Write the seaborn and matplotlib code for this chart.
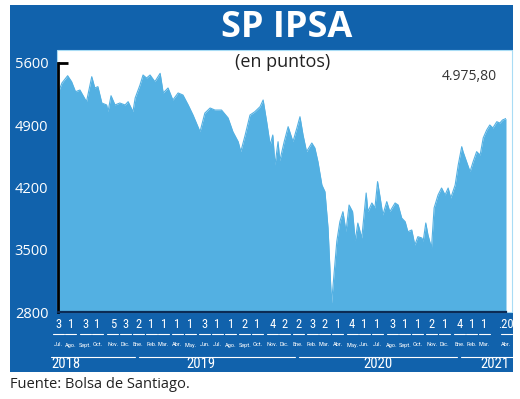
import matplotlib
matplotlib.use("Agg")
import matplotlib.pyplot as plt
import matplotlib.dates as mdates
from matplotlib.patches import Rectangle
from matplotlib.lines import Line2D
from matplotlib import font_manager
import pandas as pd
import seaborn as sns

# ---------------- data ----------------
dates = [
    "2018-07-03", "2018-07-12", "2018-07-25", "2018-08-03", "2018-08-12", "2018-08-22",
    "2018-09-06", "2018-09-18", "2018-09-25", "2018-10-02", "2018-10-11", "2018-10-22",
    "2018-10-25", "2018-11-01", "2018-11-10", "2018-11-21", "2018-12-03", "2018-12-10",
    "2018-12-21", "2018-12-26", "2019-01-06", "2019-01-13", "2019-01-21", "2019-01-29",
    "2019-02-09", "2019-02-21", "2019-02-28", "2019-03-11", "2019-03-22", "2019-04-03",
    "2019-04-14", "2019-04-26", "2019-05-07", "2019-05-23", "2019-06-03", "2019-06-15",
    "2019-06-26", "2019-07-11", "2019-07-26", "2019-08-06", "2019-08-18", "2019-08-24",
    "2019-09-03", "2019-09-14", "2019-09-25", "2019-10-07", "2019-10-14", "2019-10-22",
    "2019-10-30", "2019-11-05", "2019-11-10", "2019-11-17", "2019-11-21", "2019-12-01",
    "2019-12-10", "2019-12-21", "2019-12-30", "2020-01-06", "2020-01-13", "2020-01-21",
    "2020-02-02", "2020-02-09", "2020-02-16", "2020-02-25", "2020-03-03", "2020-03-10",
    "2020-03-18", "2020-03-21", "2020-03-30", "2020-04-06", "2020-04-13", "2020-04-20",
    "2020-04-27", "2020-05-05", "2020-05-11", "2020-05-17", "2020-05-26", "2020-06-05",
    "2020-06-09", "2020-06-18", "2020-06-25", "2020-07-01", "2020-07-07", "2020-07-13",
    "2020-07-22", "2020-07-29", "2020-08-10", "2020-08-17", "2020-08-25", "2020-09-02",
    "2020-09-08", "2020-09-17", "2020-09-24", "2020-10-01", "2020-10-10", "2020-10-13",
    "2020-10-19", "2020-10-24", "2020-11-01", "2020-11-07", "2020-11-16", "2020-11-24",
    "2020-12-02", "2020-12-09", "2020-12-15", "2020-12-25", "2021-01-01", "2021-01-09",
    "2021-01-12", "2021-01-20", "2021-01-28", "2021-02-04", "2021-02-12", "2021-02-20",
    "2021-02-27", "2021-03-07", "2021-03-14", "2021-03-21", "2021-03-30", "2021-04-06",
    "2021-04-12", "2021-04-20",
]
values = [
    5260, 5375, 5457, 5390, 5277, 5296,
    5165, 5446, 5319, 5334, 5150, 5128,
    5052, 5232, 5128, 5150, 5128, 5165,
    5052, 5206, 5352, 5465, 5431, 5465,
    5390, 5484, 5263, 5319, 5184, 5263,
    5240, 5128, 5015, 4827, 5037, 5094,
    5071, 5071, 4982, 4827, 4715, 4603,
    4790, 5015, 5052, 5109, 5184, 4940,
    4678, 4790, 4453, 4715, 4500, 4715,
    4884, 4715, 4869, 4996, 4790, 4603,
    4700, 4644, 4490, 4228, 4153, 3745,
    2901, 3070, 3593, 3815, 3928, 3703,
    4003, 3928, 3600, 3800, 3632, 4138,
    3928, 4026, 3970, 4266, 4082, 3891,
    4041, 3928, 4026, 4003, 3857, 3815,
    3703, 3722, 3553, 3647, 3632, 3593,
    3801, 3666, 3520, 3970, 4116, 4194,
    4116, 4194, 4082, 4228, 4453, 4659,
    4603, 4490, 4378, 4490, 4603, 4565,
    4757, 4847, 4903, 4869, 4940, 4925,
    4959, 4976,
]

tick_dates = [
    "2018-07-03", "2018-08-01", "2018-09-03", "2018-10-01", "2018-11-05", "2018-12-03",
    "2019-01-02", "2019-02-01", "2019-03-01", "2019-04-01", "2019-05-01", "2019-06-03",
    "2019-07-01", "2019-08-01", "2019-09-02", "2019-10-01", "2019-11-04", "2019-12-02",
    "2020-01-02", "2020-02-03", "2020-03-02", "2020-04-01", "2020-05-04", "2020-06-01",
    "2020-07-01", "2020-08-03", "2020-09-01", "2020-10-01", "2020-11-02", "2020-12-01",
    "2021-01-04", "2021-02-01", "2021-03-01", "2021-04-20",
]
tick_day_labels = [
    "3", "1", "3", "1", "5", "3",
    "2", "1", "1", "1", "1", "3", "1", "1", "2", "1", "4", "2",
    "2", "3", "2", "1", "4", "1", "1", "3", "1", "1", "2", "1",
    "4", "1", "1", ".20",
]
tick_month_labels = [
    "Jul.", "Ago.", "Sept.", "Oct.", "Nov.", "Dic.",
    "Ene.", "Feb.", "Mar.", "Abr.", "May.", "Jun.", "Jul.", "Ago.", "Sept.", "Oct.", "Nov.", "Dic.",
    "Ene.", "Feb.", "Mar.", "Abr.", "May.", "Jun.", "Jul.", "Ago.", "Sept.", "Oct.", "Nov.", "Dic.",
    "Ene.", "Feb.", "Mar.", "Abr.",
]
years = ["2018", "2019", "2020", "2021"]
y_ticks = [2800, 3500, 4200, 4900, 5600]
last_value_label = "4.975,80"
title = "SP IPSA"
subtitle = "(en puntos)"
source = "Fuente: Bolsa de Santiago."

# layout-only anchors for year captions
year_label_dates = ["2018-07-20", "2019-05-25", "2020-07-01", "2021-03-26"]

# ---------------- style ----------------
sns.set_style("white")
plt.rcParams["font.family"] = ["Open Sans", "DejaVu Sans"]

installed = {f.name for f in font_manager.fontManager.ttflist}
NARROW = [f for f in ["Roboto Condensed", "Liberation Sans Narrow", "Roboto"] if f in installed] + ["DejaVu Sans"]

DARK = "#1162AC"
FILL = "#53B0E2"

W, H = 520, 399
fig = plt.figure(figsize=(W / 100, H / 100), dpi=100)
fig.patch.set_facecolor("white")


def fx(px):
    return px / W


def fy(py):
    return 1 - py / H


fig.add_artist(Rectangle((fx(10), fy(372)), fx(513) - fx(10), fy(5) - fy(372),
                         transform=fig.transFigure, facecolor=DARK, edgecolor="none", zorder=-3))
fig.add_artist(Rectangle((fx(57), fy(312)), fx(512) - fx(57), fy(50) - fy(312),
                         transform=fig.transFigure, facecolor="white", edgecolor="#a8dcf5",
                         lw=0.8, zorder=-2))

ax = fig.add_axes([fx(58), fy(312), fx(506) - fx(58), fy(63) - fy(312)])
ax.patch.set_alpha(0)

df = pd.DataFrame({"date": pd.to_datetime(dates), "value": values})
sns.lineplot(data=df, x="date", y="value", ax=ax, color=FILL, lw=0.8)
ax.fill_between(df["date"], df["value"], y_ticks[0], color=FILL, lw=0)

ax.set_xlim(df["date"].iloc[0], df["date"].iloc[-1])
ax.set_ylim(y_ticks[0], y_ticks[-1])
ax.set_xlabel("")
ax.set_ylabel("")
ax.set_xticks([])
ax.set_yticks(y_ticks)
ax.set_yticklabels([str(v) for v in y_ticks], color="white", fontsize=10.5)
ax.tick_params(axis="y", length=0, pad=7)

for s in ("top", "right"):
    ax.spines[s].set_visible(False)
ax.spines["left"].set_color("black")
ax.spines["left"].set_linewidth(2)
ax.spines["bottom"].set_color("#0B2B55")
ax.spines["bottom"].set_linewidth(1.6)

# bracket tick at the top value
ax.plot([0, 0.022], [y_ticks[-1], y_ticks[-1]], transform=ax.get_yaxis_transform(),
        color="black", lw=2, clip_on=False, solid_capstyle="butt")

inv = fig.transFigure.inverted()


def date_fx(d):
    disp = ax.transData.transform((mdates.date2num(pd.Timestamp(d)), y_ticks[0]))
    return inv.transform(disp)[0]


# bottom day / month labels
for d, n, m in zip(tick_dates, tick_day_labels, tick_month_labels):
    xf = date_fx(d)
    fig.text(xf, fy(325), n, ha="center", va="center", color="white",
             fontsize=9, family=NARROW, fontstretch="condensed")
    fig.add_artist(Line2D([xf - fx(5.5), xf + fx(5.5)], [fy(334), fy(334)],
                          transform=fig.transFigure, color="white", lw=0.8))
    fig.text(xf, fy(345), m, ha="center", va="center", color="white",
             fontsize=4.6, family=NARROW, fontstretch="condensed")

# year lines and labels
year_firsts = []
for y in years:
    idx = [i for i, d in enumerate(tick_dates) if d.startswith(y)]
    year_firsts.append(idx[0])
for k, y in enumerate(years):
    i0 = year_firsts[k]
    start = date_fx(tick_dates[i0]) - fx(7) if k == 0 else date_fx(tick_dates[i0]) + fx(1)
    if k < len(years) - 1:
        end = date_fx(tick_dates[year_firsts[k + 1]]) - fx(3)
    else:
        end = fx(513)
    fig.add_artist(Line2D([start, end], [fy(357), fy(357)], transform=fig.transFigure,
                          color="white", lw=0.8))
    fig.text(date_fx(year_label_dates[k]), fy(364), y, ha="center", va="center",
             color="white", fontsize=10.5, family=NARROW, fontstretch="condensed")

# titles and notes
fig.text(fx(287), fy(28), title, ha="center", va="center", color="white",
         fontsize=26, fontweight="bold")
fig.text(fx(283), fy(62), subtitle, ha="center", va="center", color="#222222", fontsize=13)
fig.text(fx(469), fy(77), last_value_label, ha="center", va="center", color="#333333",
         fontsize=10)
fig.text(fx(10), fy(385), source, ha="left", va="center", color="#222222", fontsize=10.5)

fig.savefig("out.png", dpi=100)
